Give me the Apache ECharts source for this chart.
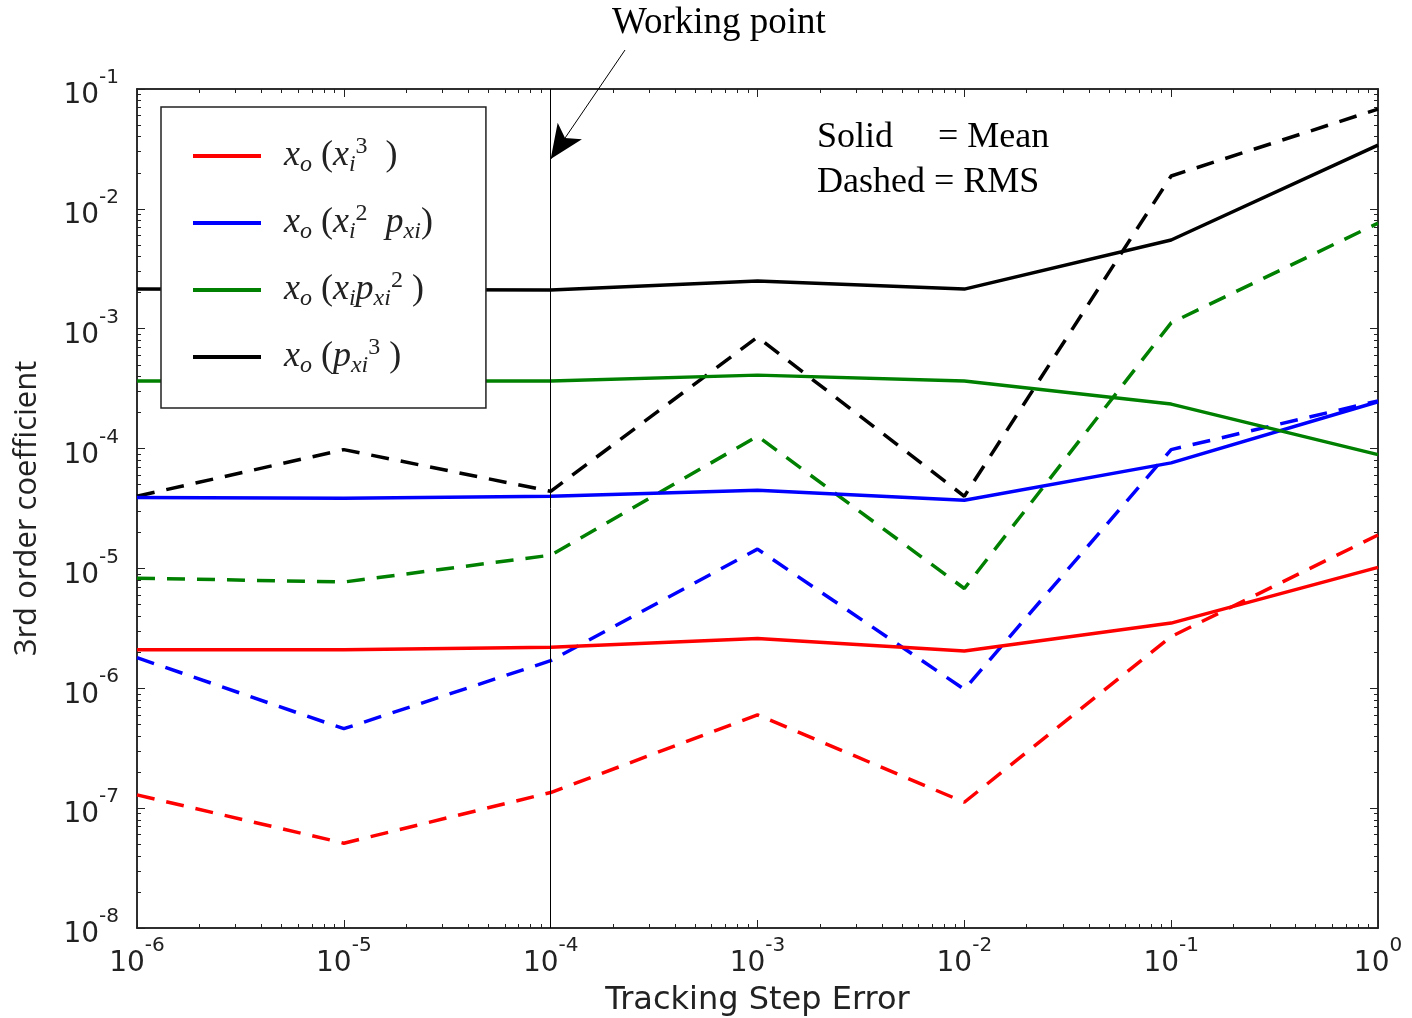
<!DOCTYPE html>
<html><head><meta charset="utf-8">
<script src="https://cdn.jsdelivr.net/npm/echarts@6/dist/echarts.min.js"></script>
<style>html,body{margin:0;padding:0;background:#fff}#c{width:1412px;height:1018px}</style>
</head><body><div id="c"></div>
<script>
// x positions (tracking step error)
const steps = [1e-6, 1e-5, 1e-4, 1e-3, 1e-2, 1e-1, 1];
// Mean (solid) values
const meanX3   = [2.1e-6, 2.1e-6, 2.2e-6, 2.6e-6, 2.05e-6, 3.5e-6, 1.02e-5];
const meanX2P  = [3.9e-5, 3.85e-5, 4.0e-5, 4.5e-5, 3.7e-5, 7.6e-5, 2.46e-4];
const meanXP2  = [3.66e-4, 3.66e-4, 3.66e-4, 4.1e-4, 3.66e-4, 2.35e-4, 8.9e-5];
const meanP3   = [2.14e-3, 2.12e-3, 2.1e-3, 2.5e-3, 2.14e-3, 5.5e-3, 3.4e-2];
// RMS (dashed) values
const rmsX3    = [1.29e-7, 5.1e-8, 1.35e-7, 6.0e-7, 1.12e-7, 2.7e-6, 1.9e-5];
const rmsX2P   = [1.8e-6, 4.6e-7, 1.7e-6, 1.45e-5, 9.8e-7, 9.8e-5, 2.5e-4];
const rmsXP2   = [8.3e-6, 7.7e-6, 1.29e-5, 1.27e-4, 6.8e-6, 1.12e-3, 7.6e-3];
const rmsP3    = [4.0e-5, 9.8e-5, 4.4e-5, 8.5e-4, 4.0e-5, 1.88e-2, 6.8e-2];
// tick values
const xMajor = [1e-6, 1e-5, 1e-4, 1e-3, 1e-2, 1e-1, 1];
const yMajor = [1e-8, 1e-7, 1e-6, 1e-5, 1e-4, 1e-3, 1e-2, 1e-1];
const workingPoint = 1e-4;

function minors(majors){
  const out = [];
  for (let i = 0; i < majors.length - 1; i++) for (let k = 2; k <= 9; k++) out.push(+(majors[i]*k).toPrecision(3));
  return out;
}
const xMinor = minors(xMajor), yMinor = minors(yMajor);

const names = ['x3','x2p','xp2','p3'];
const colors = ['#ff0000','#0000ff','#008000','#000000'];
const means = [meanX3, meanX2P, meanXP2, meanP3];
const rmss = [rmsX3, rmsX2P, rmsXP2, rmsP3];
const pair = arr => steps.map((s,i)=>[s, arr[i]]);

const legendLabels = {
  x3:  '{x|x}{sub|o}{p| (}{x|x}{sub|i}{sup|3}{p|  )}',
  x2p: '{x|x}{sub|o}{p| (}{x|x}{sub|i}{sup|2}{p|  }{x|p}{sub|xi}{p|)}',
  xp2: '{x|x}{sub|o}{p| (}{x|x}{sub|i}{x|p}{sub|xi}{sup|2}{p| )}',
  p3:  '{x|x}{sub|o}{p| (}{x|p}{sub|xi}{sup|3}{p| )}'
};

const lbl = v => { const e = Math.round(Math.log10(v)); return '{b|10}{s|' + e + '}'; };
const labRich = { b:{fontFamily:'DejaVu Sans', fontSize:28, color:'#222', lineHeight:42, verticalAlign:'bottom'},
                  s:{fontFamily:'DejaVu Sans', fontSize:20, color:'#222', lineHeight:42, verticalAlign:'top'} };

const baseX = (extra) => Object.assign({type:'log', min:1e-6, max:1, logBase:10, splitLine:{show:false},
  axisLine:{show:true, lineStyle:{color:'#222', width:1.5}}, axisLabel:{show:false},
  axisTick:{show:true, inside:true, length:8, lineStyle:{color:'#222', width:1}}}, extra);
const baseY = (extra) => Object.assign({type:'log', min:1e-8, max:1e-1, logBase:10, splitLine:{show:false},
  axisLine:{show:true, lineStyle:{color:'#222', width:1.5}}, axisLabel:{show:false},
  axisTick:{show:true, inside:true, length:8, lineStyle:{color:'#222', width:1}}}, extra);

const series = [];
names.forEach((n,i)=>{
  series.push({name:n, type:'line', data:pair(means[i]), showSymbol:false, symbol:'none',
    lineStyle:{color:colors[i], width:3.5, type:'solid'}, itemStyle:{color:colors[i]}, z:3});
});
names.forEach((n,i)=>{
  series.push({name:n+'_rms', type:'line', data:pair(rmss[i]), showSymbol:false, symbol:'none',
    lineStyle:{color:colors[i], width:3.5, type:[18,12]}, itemStyle:{color:colors[i]}, z:2});
});
series[0].markLine = {
  silent:true, animation:false, symbol:['none','none'], label:{show:false},
  lineStyle:{color:'#000', width:1, type:'solid'},
  data:[
    [{coord:[workingPoint, 1e-8]}, {coord:[workingPoint, 1e-1]}],
    [{x:625, y:50, symbol:'none'},
     {coord:[workingPoint, 2.6e-2], symbol:'arrow', symbolSize:[22,34]}]
  ]
};

const chart = echarts.init(document.getElementById('c'), null, {renderer:'canvas'});
chart.setOption({
  animation:false,
  backgroundColor:'#fff',
  grid:{left:137, right:34, top:89, bottom:90, containLabel:false, outerBoundsMode:'none'},
  xAxis:[
    baseX({position:'bottom', name:'Tracking Step Error', nameLocation:'middle', nameGap:57,
      nameTextStyle:{fontFamily:'DejaVu Sans', fontSize:32, color:'#222'},
      axisTick:{show:true, inside:true, length:8, customValues:xMajor, lineStyle:{color:'#222', width:1}},
      axisLabel:{show:true, customValues:xMajor, formatter:lbl, rich:labRich, margin:8}}),
    baseX({position:'bottom', axisTick:{show:true, inside:true, length:4, customValues:xMinor, lineStyle:{color:'#222', width:1}}}),
    baseX({position:'top', axisTick:{show:true, inside:true, length:8, customValues:xMajor, lineStyle:{color:'#222', width:1}}}),
    baseX({position:'top', axisTick:{show:true, inside:true, length:4, customValues:xMinor, lineStyle:{color:'#222', width:1}}})
  ],
  yAxis:[
    baseY({position:'left', name:'3rd order coefficient', nameLocation:'middle', nameGap:94, nameRotate:90,
      nameTextStyle:{fontFamily:'Open Sans', fontSize:31, color:'#222'},
      axisTick:{show:true, inside:true, length:8, customValues:yMajor, lineStyle:{color:'#222', width:1}},
      axisLabel:{show:true, customValues:yMajor, formatter:lbl, rich:labRich, margin:18}}),
    baseY({position:'left', axisTick:{show:true, inside:true, length:4, customValues:yMinor, lineStyle:{color:'#222', width:1}}}),
    baseY({position:'right', axisTick:{show:true, inside:true, length:8, customValues:yMajor, lineStyle:{color:'#222', width:1}}}),
    baseY({position:'right', axisTick:{show:true, inside:true, length:4, customValues:yMinor, lineStyle:{color:'#222', width:1}}})
  ],
  legend:{
    data:names, left:161, top:107, orient:'vertical',
    backgroundColor:'#fff', borderColor:'#222', borderWidth:1.5,
    padding:[28, 53, 30, 32], itemGap:25, itemWidth:68, itemHeight:4,
    icon:'rect',
    formatter: n => legendLabels[n],
    textStyle:{ padding:[0,0,0,18], rich:{
      x:{fontFamily:'Liberation Serif', fontStyle:'italic', fontSize:36, color:'#222', lineHeight:42, verticalAlign:'middle'},
      p:{fontFamily:'Liberation Serif', fontSize:36, color:'#222', lineHeight:42, verticalAlign:'middle'},
      sub:{fontFamily:'Liberation Serif', fontStyle:'italic', fontSize:24, color:'#222', lineHeight:42, verticalAlign:'bottom'},
      sup:{fontFamily:'Liberation Serif', fontSize:24, color:'#222', lineHeight:42, verticalAlign:'top'}
    }}
  },
  graphic:[
    {type:'text', left:612, top:5, style:{text:'Working point', font:'37px "Liberation Serif"', fill:'#000'}},
    {type:'text', left:817, top:120, style:{text:'Solid     = Mean', font:'36px "Liberation Serif"', fill:'#000'}},
    {type:'text', left:817, top:165, style:{text:'Dashed = RMS', font:'36px "Liberation Serif"', fill:'#000'}}
  ],
  series: series
});
</script></body></html>
